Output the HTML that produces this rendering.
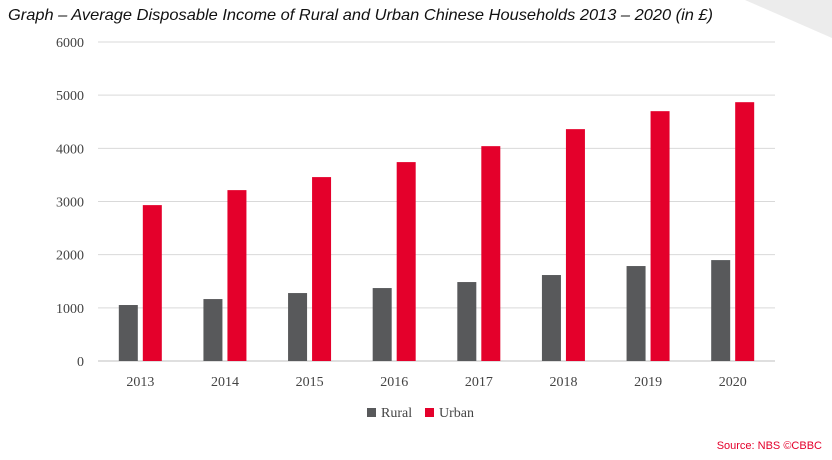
<!DOCTYPE html>
<html><head><meta charset="utf-8"><style>
html,body{margin:0;padding:0;background:#fff;}
svg{display:block;font-family:"Liberation Serif",serif;}
</style></head><body>
<svg id="chart" width="832" height="460" viewBox="0 0 832 460">
<polygon points="745,0 832,0 832,38" fill="#ececec"/>
<text x="8" y="20" font-family="Liberation Sans, sans-serif" font-style="italic" font-size="16" textLength="705" lengthAdjust="spacingAndGlyphs" fill="#111">Graph – Average Disposable Income of Rural and Urban Chinese Households 2013 – 2020 (in £)</text>
<g id="grid"></g><g id="bars"></g><g id="labels"></g>
<g>
<rect x="367" y="408" width="9" height="9" fill="#58595b"/>
<text x="381" y="417" font-size="14" fill="#444">Rural</text>
<rect x="425" y="408" width="9" height="9" fill="#e4002b"/>
<text x="439" y="417" font-size="14" fill="#444">Urban</text>
</g>
<text x="822" y="449" text-anchor="end" font-family="Liberation Sans, sans-serif" font-size="11" fill="#e4002b">Source: NBS ©CBBC</text>
</svg>
<script>
const categories=["2013","2014","2015","2016","2017","2018","2019","2020"];
const rural=[1053,1165,1278,1372,1485,1617,1786,1898];
const urban=[2932,3214,3459,3741,4041,4361,4699,4868];
const yTicks=[0,1000,2000,3000,4000,5000,6000];
const NS="http://www.w3.org/2000/svg";
const x0=98,x1=775,y0=361,yTop=42,yMax=6000;
const y=v=>y0-(v/yMax)*(y0-yTop);
const step=(x1-x0)/categories.length;
const xc=i=>x0+step*(i+0.5);
function mk(tag,attrs,parent){const e=document.createElementNS(NS,tag);for(const k in attrs)e.setAttribute(k,attrs[k]);parent.appendChild(e);return e;}
const grid=document.getElementById('grid'),bars=document.getElementById('bars'),labels=document.getElementById('labels');
yTicks.forEach(t=>{
 const l=mk('line',{x1:x0,x2:x1,y1:y(t),y2:y(t),stroke:t===0?'#bfbfbf':'#d9d9d9','stroke-width':1},grid);
 
 
 const tx=mk('text',{x:84,y:y(t)+5,'text-anchor':'end','font-size':14,fill:'#444'},labels);
 tx.textContent=t;
 
 
});
categories.forEach((c,i)=>{
 const bw=19;
 const r=mk('rect',{x:xc(i)-bw-2.5,y:y(rural[i]),width:bw,height:y0-y(rural[i]),fill:'#58595b'},bars);
 
 
 const u=mk('rect',{x:xc(i)+2.5,y:y(urban[i]),width:bw,height:y0-y(urban[i]),fill:'#e4002b'},bars);
 
 
 const t=mk('text',{x:xc(i),y:386,'text-anchor':'middle','font-size':14,fill:'#444'},labels);
 t.textContent=c;
 
 
});
</script>
</body></html>
